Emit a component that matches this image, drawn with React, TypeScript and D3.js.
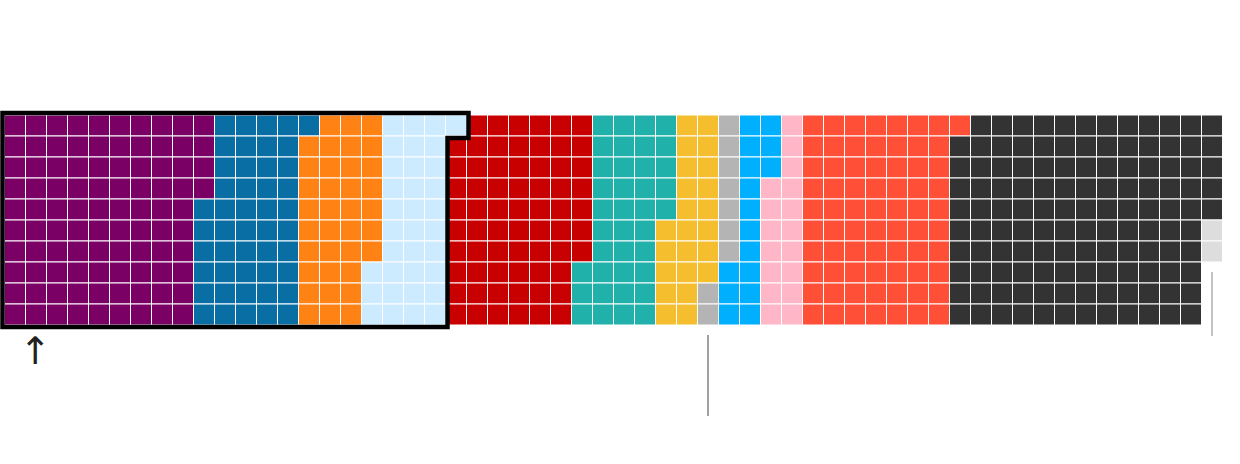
import React from "react";
import * as d3 from "d3";

// Seats per group, in fill order (column-major, top to bottom)
const groups = ["g1", "g2", "g3", "g4", "g5", "g6", "g7", "g8", "g9", "g10", "g11", "g12", "g13"];
const seats = [94, 47, 36, 34, 66, 38, 23, 9, 16, 17, 71, 124, 2];
const colors = [
  "#7a0066", "#086ea3", "#ff8214", "#cdebfe", "#c80000", "#20b2aa",
  "#f4be2e", "#b4b4b4", "#00b0ff", "#ffb7c8", "#ff4f37", "#333333", "#dddddd",
];
const outlinedGroups = ["g1", "g2", "g3", "g4"];
const annotatedSeats = [339, 576]; // seat indexes that receive pointer lines
const annotationEnds = [416, 336];

const ROWS = 10;
const COLS = 58;

export default function App() {
  const W = 1240;
  const H = 464;
  const x = d3.scaleLinear().domain([0, COLS]).range([4.5, 1222.5]);
  const y = d3.scaleLinear().domain([0, ROWS]).range([115, 325]);
  const color = d3.scaleOrdinal<string, string>().domain(groups).range(colors);

  const cells: { i: number; g: string }[] = [];
  groups.forEach((g, gi) => {
    for (let k = 0; k < seats[gi]; k++) cells.push({ i: cells.length, g });
  });

  // outline of the outlined block
  const nOut = d3.sum(outlinedGroups.map((g) => seats[groups.indexOf(g)]));
  const fullCols = Math.floor(nOut / ROWS);
  const rem = nOut % ROWS;
  const d = 2;
  const pts: [number, number][] = rem > 0
    ? [
        [x(0) - d, y(0) - d],
        [x(fullCols + 1) + d, y(0) - d],
        [x(fullCols + 1) + d, y(rem) + d],
        [x(fullCols) + d, y(rem) + d],
        [x(fullCols) + d, y(ROWS) + d],
        [x(0) - d, y(ROWS) + d],
      ]
    : [
        [x(0) - d, y(0) - d],
        [x(fullCols) + d, y(0) - d],
        [x(fullCols) + d, y(ROWS) + d],
        [x(0) - d, y(ROWS) + d],
      ];
  const outline = d3.line()(pts) + "Z";

  const lines = annotatedSeats.map((s, k) => {
    const c = Math.floor(s / ROWS);
    const r = s % ROWS;
    const cx = (x(c) + x(c + 1)) / 2;
    return {
      x: cx,
      y1: y(r + 1) + 10,
      y2: annotationEnds[k],
      w: k === 0 ? 1.4 : 1,
      c: k === 0 ? "#777" : "#888",
    };
  });

  return (
    <svg
      width={W}
      height={H}
      style={{ position: "absolute", left: 0, top: 0, fontFamily: "DejaVu Sans" }}
    >
      <rect width={W} height={H} fill="#fff" />
      <g>
        {cells.map((cell) => {
          const c = Math.floor(cell.i / ROWS);
          const r = cell.i % ROWS;
          return (
            <rect
              key={cell.i}
              x={x(c)}
              y={y(r)}
              width={x(c + 1) - x(c)}
              height={y(r + 1) - y(r)}
              fill={color(cell.g)}
              stroke="#fff"
              strokeWidth={1}
            />
          );
        })}
      </g>
      <path d={outline} fill="none" stroke="#000" strokeWidth={4.5} strokeLinejoin="miter" />
      {lines.map((l, k) => (
        <line key={k} x1={l.x} x2={l.x} y1={l.y1} y2={l.y2} stroke={l.c} strokeWidth={l.w} />
      ))}
      <text x={35.5} y={364} textAnchor="middle" fontSize={38} fill="#222">
        ↑
      </text>
    </svg>
  );
}
